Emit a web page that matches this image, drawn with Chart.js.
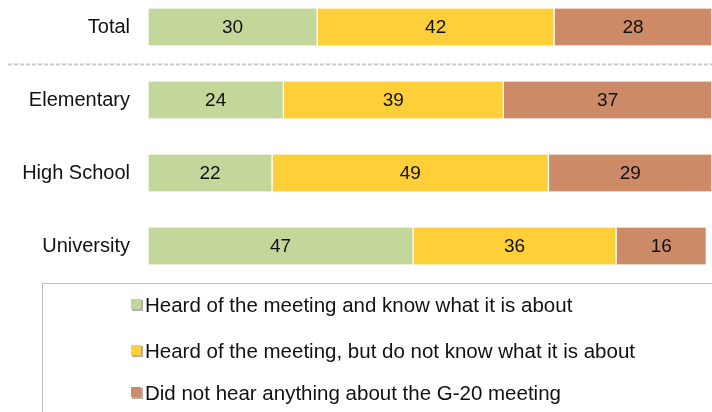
<!DOCTYPE html>
<html>
<head>
<meta charset="utf-8">
<script src="https://cdn.jsdelivr.net/npm/chart.js@4"></script>
<style>
  html, body { margin: 0; padding: 0; background: #fff; }
  #wrap { position: relative; width: 712px; height: 412px; }
</style>
</head>
<body>
<div id="wrap"><canvas id="c" width="712" height="412"></canvas></div>
<script>
const categories = ["Total", "Elementary", "High School", "University"];
const seriesNames = [
  "Heard of the meeting and know what it is about",
  "Heard of the meeting, but do not know what it is about",
  "Did not hear anything about the G-20 meeting"
];
const heardKnow = [30, 24, 22, 47];
const heardNotKnow = [42, 39, 49, 36];
const notHeard = [28, 37, 29, 16];
const seriesColors = ["#c4d79b", "#ffcf3a", "#cd8a67"];

const FONT = '"Liberation Sans", Arial, sans-serif';

const valueLabels = {
  id: 'valueLabels',
  afterDatasetsDraw(chart) {
    const ctx = chart.ctx;
    ctx.save();
    ctx.font = '19px ' + FONT;
    ctx.fillStyle = '#111';
    ctx.textAlign = 'center';
    ctx.textBaseline = 'middle';
    chart.data.datasets.forEach((ds, di) => {
      const meta = chart.getDatasetMeta(di);
      meta.data.forEach((el, i) => {
        const p = el.getCenterPoint();
        ctx.fillText(String(ds.data[i]), p.x, p.y + 1);
      });
    });
    ctx.restore();
  }
};

const separator = {
  id: 'separator',
  afterDraw(chart) {
    const y = chart.scales.y;
    const yy = Math.round((y.getPixelForValue(0) + y.getPixelForValue(1)) / 2) + 0.5;
    const ctx = chart.ctx;
    ctx.save();
    ctx.strokeStyle = '#cccccc';
    ctx.lineWidth = 2;
    ctx.setLineDash([4, 2]);
    ctx.beginPath();
    ctx.moveTo(8, yy);
    ctx.lineTo(chart.width, yy);
    ctx.stroke();
    ctx.restore();
  }
};

const boxLegend = {
  id: 'boxLegend',
  afterDraw(chart) {
    const ctx = chart.ctx;
    ctx.save();
    ctx.strokeStyle = '#bfbfbf';
    ctx.lineWidth = 1;
    ctx.strokeRect(42.5, 283.5, 720, 200);
    ctx.font = '20.5px ' + FONT;
    ctx.textBaseline = 'middle';
    ctx.textAlign = 'left';
    const rows = [305, 351, 393];
    chart.data.datasets.forEach((ds, i) => {
      const cy = rows[i];
      ctx.fillStyle = '#b0b0b0';
      ctx.fillRect(132, cy - 5, 11, 11);
      ctx.fillStyle = ds.backgroundColor;
      ctx.fillRect(131, cy - 6, 10, 10);
      ctx.fillStyle = '#111';
      ctx.fillText(ds.label, 145, cy + 1);
    });
    ctx.restore();
  }
};

new Chart(document.getElementById('c'), {
  type: 'bar',
  data: {
    labels: categories,
    datasets: [
      { label: seriesNames[0], data: heardKnow, backgroundColor: seriesColors[0] },
      { label: seriesNames[1], data: heardNotKnow, backgroundColor: seriesColors[1] },
      { label: seriesNames[2], data: notHeard, backgroundColor: seriesColors[2] }
    ].map(d => Object.assign(d, {
      borderColor: '#ffffff',
      borderWidth: { left: 1, right: 1, top: 0, bottom: 0 },
      borderSkipped: false,
      barThickness: 37,
      clip: false
    }))
  },
  options: {
    indexAxis: 'y',
    responsive: false,
    animation: false,
    devicePixelRatio: 1,
    layout: { padding: { top: 27, bottom: 166, left: 0, right: 0 } },
    plugins: {
      legend: { display: false },
      tooltip: { enabled: false }
    },
    scales: {
      x: {
        stacked: true, min: 0, max: 100, display: false
      },
      y: {
        stacked: true,
        offset: false,
        grid: { display: false },
        border: { display: false },
        ticks: { color: '#111', font: { family: FONT, size: 20 }, padding: 10 },
        afterFit(scale) { scale.width = 148; }
      }
    }
  },
  plugins: [valueLabels, separator, boxLegend]
});
</script>
</body>
</html>
